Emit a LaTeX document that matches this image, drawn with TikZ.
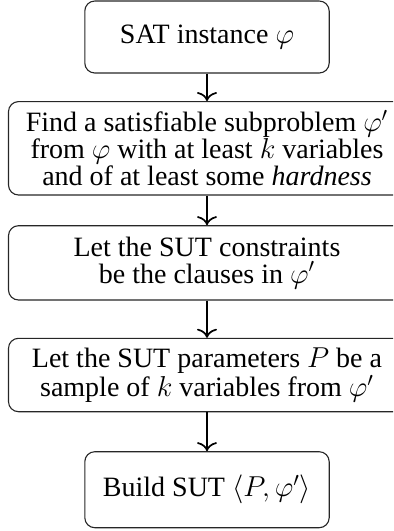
\documentclass[tikz,border=0pt]{standalone}
\usepackage{fontspec}
\setmainfont{Liberation Serif}
\usetikzlibrary{arrows.meta}
\begin{document}
\begin{tikzpicture}[x=0.5pt,y=-0.5pt,
  box/.style={draw=black!85, line width=0.55pt, rounded corners=5pt, inner sep=0pt, align=center,
    font=\fontsize{14}{13.5}\selectfont},
  narrow/.style={box, minimum width=122.2pt},
  wide/.style={box, minimum width=198.5pt},
  flow/.style={line width=0.85pt, -{To[length=4.5pt,width=10pt]}}]
\useasboundingbox (0,0) rectangle (393,531);
\clip (0,0) rectangle (393,531);
\node[narrow, minimum height=36pt] (sat) at (207,37) {SAT instance $\varphi$};
\node[wide, minimum height=46.7pt] (find) at (207,148.3) {Find a satisfiable subproblem $\varphi'$\\from $\varphi$ with at least $k$ variables\\and of at least some \emph{hardness}};
\node[wide, minimum height=37.15pt] (cons) at (207,262.85) {Let the SUT constraints\\be the clauses in $\varphi'$};
\node[wide, minimum height=36.7pt] (par) at (207,375) {Let the SUT parameters $P$ be a\\sample of $k$ variables from $\varphi'$};
\node[narrow, minimum height=38pt] (build) at (207,489.7) {Build SUT $\langle P,\varphi'\rangle$};
\draw[flow] (sat) -- (find);
\draw[flow] (find) -- (cons);
\draw[flow] (cons) -- (par);
\draw[flow] (par) -- (build);
\end{tikzpicture}
\end{document}
